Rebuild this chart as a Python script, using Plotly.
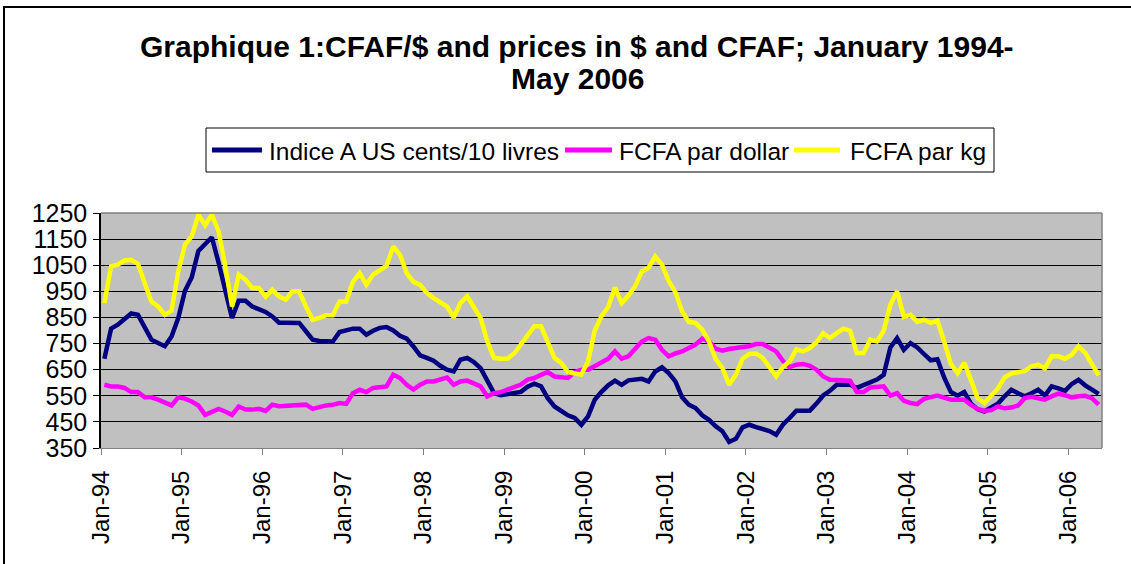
import plotly.graph_objects as go

# ---------------- data (monthly, Jan 1994 - May 2006) ----------------
years = ["94", "95", "96", "97", "98", "99", "00", "01", "02", "03", "04", "05", "06"]
tick_labels = ["Jan-" + y for y in years]

indice_a = [
    692, 807, 822, 845, 865, 860, 812, 765, 752, 740, 777, 848,      # 1994
    952, 1003, 1105, 1131, 1157, 1060, 950, 848, 914, 914, 892, 880,  # 1995
    871, 854, 830, 830, 830, 829, 797, 765, 760, 758, 758, 794,      # 1996
    800, 807, 807, 784, 799, 810, 813, 800, 780, 769, 739, 705,      # 1997
    695, 684, 665, 650, 643, 688, 695, 679, 656, 610, 560, 552,      # 1998
    555, 558, 565, 585, 596, 586, 541, 509, 490, 475, 465, 439,      # 1999
    471, 535, 565, 590, 608, 592, 609, 610, 615, 605, 643, 659,      # 2000
    637, 605, 544, 516, 503, 475, 458, 433, 414, 373, 385, 429,      # 2001
    439, 430, 424, 415, 401, 439, 465, 493, 493, 493, 520, 551,      # 2002
    569, 592, 592, 592, 580, 590, 599, 612, 630, 735, 771, 726,      # 2003
    752, 735, 710, 686, 690, 620, 565, 550, 564, 520, 498, 490,      # 2004
    505, 520, 548, 573, 560, 548, 560, 573, 551, 586, 578, 569,      # 2005
    595, 611, 590, 575, 557,                                         # 2006
]

fcfa_par_dollar = [
    592, 586, 586, 580, 564, 564, 544, 544, 535, 526, 513, 544,      # 1994
    539, 528, 513, 477, 490, 500, 490, 477, 509, 497, 497, 500,      # 1995
    492, 516, 510, 512, 516, 516, 516, 500, 508, 513, 516, 522,      # 1996
    519, 560, 573, 564, 580, 583, 586, 631, 618, 592, 574, 592,      # 1997
    605, 605, 612, 620, 592, 605, 608, 597, 586, 548, 560, 564,      # 1998
    575, 586, 593, 612, 618, 630, 641, 624, 620, 618, 640, 650,      # 1999
    650, 665, 680, 692, 720, 692, 701, 730, 758, 771, 765, 726,      # 2000
    701, 712, 720, 733, 746, 769, 758, 730, 723, 729, 735, 737,      # 2001
    740, 748, 748, 735, 720, 684, 660, 669, 672, 665, 650, 624,      # 2002
    611, 610, 608, 608, 564, 564, 582, 586, 586, 551, 560, 531,      # 2003
    522, 518, 538, 545, 551, 543, 535, 535, 535, 515, 500, 492,      # 2004
    495, 509, 502, 505, 513, 541, 546, 540, 535, 548, 558, 552,      # 2005
    544, 548, 550, 541, 516,                                         # 2006
]

fcfa_par_kg = [
    905, 1046, 1052, 1068, 1071, 1055, 982, 911, 892, 860, 876, 1026,     # 1994
    1129, 1160, 1244, 1203, 1244, 1180, 1046, 892, 1014, 995, 963, 963,   # 1995
    930, 956, 931, 918, 950, 950, 892, 841, 848, 858, 858, 911,           # 1996
    911, 986, 1020, 975, 1014, 1033, 1048, 1122, 1090, 1020, 986, 975,    # 1997
    944, 924, 910, 892, 850, 905, 931, 892, 848, 758, 695, 692,           # 1998
    692, 712, 745, 781, 816, 816, 752, 695, 676, 641, 635, 631,           # 1999
    682, 800, 855, 890, 965, 905, 934, 969, 1026, 1040, 1084, 1052,       # 2000
    990, 947, 873, 833, 829, 803, 758, 690, 656, 592, 631, 692,           # 2001
    710, 712, 695, 656, 624, 660, 682, 728, 720, 733, 755, 790,           # 2002
    771, 790, 807, 799, 714, 714, 765, 758, 799, 899, 950, 852,           # 2003
    860, 833, 841, 829, 838, 758, 672, 637, 676, 610, 540, 522,           # 2004
    550, 578, 620, 635, 640, 645, 663, 669, 655, 701, 701, 692,           # 2005
    707, 739, 714, 669, 628,                                              # 2006
]

series_names = ["Indice A US cents/10 livres", "FCFA par dollar", "FCFA par kg"]
y_ticks = list(range(350, 1251, 100))

# ---------------- styling / layout helpers ----------------
W, H = 1131, 564
PL, PR, PT, PB = 101, 1102, 213, 448   # plot area in pixels
colors = ["#000080", "#FF00FF", "#FFFF00"]
FONT = "Liberation Sans, Arial, Helvetica, sans-serif"


def px_x(p):
    return (p - PL) / (PR - PL)


def px_y(p):
    return (PB - p) / (PB - PT)


x_idx = list(range(len(indice_a)))
fig = go.Figure()
for name, vals, col in zip(series_names, [indice_a, fcfa_par_dollar, fcfa_par_kg], colors):
    fig.add_trace(go.Scatter(x=x_idx, y=vals, mode="lines", name=name,
                             line=dict(color=col, width=4.5), showlegend=False))

tickvals = [-0.5 + 12 * k for k in range(len(tick_labels))]

fig.update_layout(
    width=W, height=H, autosize=False,
    margin=dict(l=PL, r=W - PR, t=PT, b=H - PB, pad=0),
    paper_bgcolor="white", plot_bgcolor="#C0C0C0",
    font=dict(family=FONT, color="black"),
    showlegend=False,
)
fig.update_xaxes(
    range=[-0.5, len(indice_a) - 0.5], tickmode="array", tickvals=tickvals, ticktext=tick_labels,
    tickangle=-90, ticks="outside", ticklen=6, tickcolor="#808080", tickwidth=1,
    showgrid=False, zeroline=False, showline=True, linecolor="#808080", linewidth=1,
    tickfont=dict(size=24, family=FONT, color="black"), ticklabelstandoff=6,
)
fig.update_yaxes(
    range=[350, 1250], tickmode="array", tickvals=y_ticks, ticktext=[str(v) for v in y_ticks],
    ticks="outside", ticklen=6, tickcolor="black", tickwidth=1,
    showgrid=True, gridcolor="black", gridwidth=1, zeroline=False,
    showline=True, linecolor="black", linewidth=1.5,
    tickfont=dict(size=25, family=FONT, color="black"), ticklabelstandoff=1,
)

shapes = []
# grey plot frame (top / right)
shapes.append(dict(type="line", xref="paper", yref="paper", x0=0, x1=1, y0=1, y1=1,
                   line=dict(color="#808080", width=1.5), layer="above"))
shapes.append(dict(type="line", xref="paper", yref="paper", x0=1, x1=1, y0=0, y1=1,
                   line=dict(color="#808080", width=1.5), layer="above"))
# outer chart border (extends past the page on right/bottom)
shapes.append(dict(type="rect", xref="paper", yref="paper", x0=px_x(4), x1=px_x(W + 40),
                   y0=px_y(H + 40), y1=px_y(7), line=dict(color="black", width=2)))
# legend box
shapes.append(dict(type="rect", xref="paper", yref="paper", x0=px_x(206), x1=px_x(994),
                   y0=px_y(172), y1=px_y(128), line=dict(color="black", width=1),
                   fillcolor="white"))
legend_items = [(212, 262, 267), (565, 612, 617), (794, 840, 848)]
annotations = []
for (s0, s1, tx), name, col in zip(legend_items, series_names, colors):
    shapes.append(dict(type="line", xref="paper", yref="paper", x0=px_x(s0), x1=px_x(s1),
                       y0=px_y(150), y1=px_y(150), line=dict(color=col, width=5)))
    annotations.append(dict(text=name, xref="paper", yref="paper", x=px_x(tx), y=px_y(151),
                            xanchor="left", yanchor="middle", showarrow=False,
                            font=dict(size=24.5, family=FONT, color="black")))

# title (two lines)
annotations.append(dict(text="<b>Graphique 1:CFAF/$ and prices in $ and CFAF; January 1994-</b>",
                        xref="paper", yref="paper", x=px_x(577), y=px_y(46),
                        xanchor="center", yanchor="middle", showarrow=False,
                        font=dict(size=30, family=FONT, color="black")))
annotations.append(dict(text="<b>May 2006</b>",
                        xref="paper", yref="paper", x=px_x(577), y=px_y(78),
                        xanchor="center", yanchor="middle", showarrow=False,
                        font=dict(size=30, family=FONT, color="black")))

fig.update_layout(shapes=shapes, annotations=annotations)
fig.write_html("out.html",
               config={"displayModeBar": False},
               post_script="document.body.style.margin='0';document.body.style.overflow='hidden';")
